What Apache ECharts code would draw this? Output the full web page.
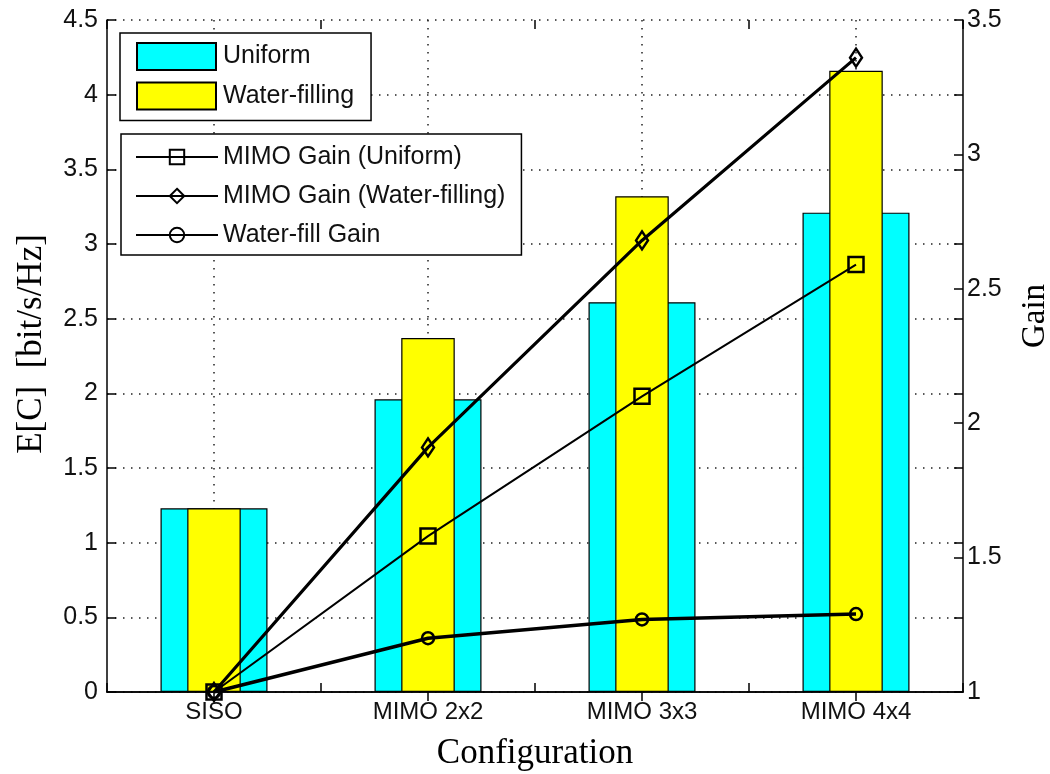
<!DOCTYPE html>
<html>
<head>
<meta charset="utf-8">
<script src="https://cdn.jsdelivr.net/npm/echarts@6/dist/echarts.min.js"></script>
<style>
  html, body { margin: 0; padding: 0; background: #fff; }
  #chart { width: 1050px; height: 774px; }
</style>
</head>
<body>
<div id="chart"></div>
<script>
// Antenna configurations
const configurations = ['SISO', 'MIMO 2x2', 'MIMO 3x3', 'MIMO 4x4'];

// Ergodic capacity E[C] in bit/s/Hz (left axis)
const capacityUniform = [1.23, 1.96, 2.61, 3.21];
const capacityWaterFilling = [1.23, 2.37, 3.32, 4.16];

// Gains relative to the reference (right axis)
const mimoGainUniform = [1, 1.58, 2.10, 2.59];
const mimoGainWaterFilling = [1, 1.91, 2.68, 3.36];
const waterFillGain = [1, 1.20, 1.27, 1.29];

const sansFont = '"Liberation Sans", Arial, sans-serif';
const serifFont = '"Liberation Serif", "Times New Roman", serif';
const ink = '#000';
const dotted = { color: '#222', width: 1.5, type: [1.5, 6.5] };

const chart = echarts.init(document.getElementById('chart'), null, { renderer: 'canvas' });

const hiddenLabels = { show: false };

chart.setOption({
  backgroundColor: '#fff',
  animation: false,
  grid: {
    left: 107, right: 87, top: 20, bottom: 82,
    containLabel: false,
    outerBoundsMode: 'none'
  },
  legend: [
    {
      data: ['Uniform', 'Water-filling'],
      orient: 'vertical',
      left: 120, top: 33,
      padding: [9, 17, 10, 16],
      itemWidth: 79, itemHeight: 27, itemGap: 10.5,
      icon: 'rect',
      borderColor: ink, borderWidth: 1.5,
      backgroundColor: '#fff',
      textStyle: { fontFamily: sansFont, fontSize: 25, color: '#111', padding: [0, 0, 0, 2] }
    },
    {
      data: ['MIMO Gain (Uniform)', 'MIMO Gain (Water-filling)', 'Water-fill Gain'],
      orient: 'vertical',
      left: 121, top: 134,
      padding: [9, 16, 6, 14],
      itemWidth: 82, itemHeight: 18, itemGap: 11,
      borderColor: ink, borderWidth: 1.5,
      backgroundColor: '#fff',
      textStyle: { fontFamily: sansFont, fontSize: 25, color: '#111', lineHeight: 28 }
    }
  ],
  xAxis: [
    {
      // main category axis: labels, ticks between categories
      type: 'category',
      data: configurations,
      position: 'bottom',
      name: 'Configuration',
      nameLocation: 'middle',
      nameGap: 44,
      nameTextStyle: { fontFamily: serifFont, fontSize: 35, color: ink },
      axisLine: { show: true, lineStyle: { color: ink, width: 1.5 } },
      axisTick: { show: true, inside: true, length: 9, lineStyle: { color: ink, width: 1.5 } },
      axisLabel: { fontFamily: sansFont, fontSize: 24, color: '#111', margin: 8 },
      splitLine: { show: false }
    },
    {
      // top frame with ticks and dotted grid at category centres
      type: 'category',
      data: configurations,
      position: 'top',
      axisLine: { show: true, lineStyle: { color: ink, width: 1.5 } },
      axisTick: { show: true, inside: true, length: 9, alignWithLabel: true, lineStyle: { color: ink, width: 1.5 } },
      axisLabel: hiddenLabels,
      splitLine: { show: true, alignWithLabel: true, lineStyle: dotted }
    },
    {
      // bottom ticks at category centres
      type: 'category',
      data: configurations,
      position: 'bottom',
      axisLine: { show: false },
      axisTick: { show: true, inside: true, length: 9, alignWithLabel: true, lineStyle: { color: ink, width: 1.5 } },
      axisLabel: hiddenLabels,
      splitLine: { show: false }
    },
    {
      // top ticks between categories
      type: 'category',
      data: configurations,
      position: 'top',
      axisLine: { show: false },
      axisTick: { show: true, inside: true, length: 9, lineStyle: { color: ink, width: 1.5 } },
      axisLabel: hiddenLabels,
      splitLine: { show: false }
    }
  ],
  yAxis: [
    {
      type: 'value',
      position: 'left',
      min: 0, max: 4.5, interval: 0.5,
      name: 'E[C]  [bit/s/Hz]',
      nameLocation: 'middle',
      nameGap: 58,
      nameRotate: 90,
      nameTextStyle: { fontFamily: serifFont, fontSize: 35, color: ink, padding: [0, 0, 0, 24] },
      axisLine: { show: true, lineStyle: { color: ink, width: 1.5 } },
      axisTick: { show: true, inside: true, length: 9, lineStyle: { color: ink, width: 1.5 } },
      axisLabel: { fontFamily: sansFont, fontSize: 25, color: '#111', margin: 9 },
      splitLine: { show: true, lineStyle: dotted }
    },
    {
      type: 'value',
      position: 'right',
      min: 1, max: 3.5, interval: 0.5,
      name: 'Gain',
      nameLocation: 'middle',
      nameGap: 56,
      nameRotate: 90,
      nameTextStyle: { fontFamily: serifFont, fontSize: 33, color: ink, padding: [0, 0, 0, 80] },
      axisLine: { show: true, lineStyle: { color: ink, width: 1.5 } },
      axisTick: { show: true, inside: true, length: 9, lineStyle: { color: ink, width: 1.5 } },
      axisLabel: { fontFamily: sansFont, fontSize: 25, color: '#111', margin: 4 },
      splitLine: { show: false }
    },
    {
      // left-axis ticks mirrored on the right frame
      type: 'value',
      position: 'right',
      min: 0, max: 4.5, interval: 0.5,
      axisLine: { show: false },
      axisTick: { show: true, inside: true, length: 9, lineStyle: { color: ink, width: 1.5 } },
      axisLabel: hiddenLabels,
      splitLine: { show: false }
    }
  ],
  series: [
    {
      name: 'Uniform',
      type: 'bar',
      xAxisIndex: 0, yAxisIndex: 0,
      data: capacityUniform,
      barWidth: '50%',
      itemStyle: { color: '#00FFFF', borderColor: ink, borderWidth: 1.2 },
      z: 2
    },
    {
      name: 'Water-filling',
      type: 'bar',
      xAxisIndex: 1, yAxisIndex: 0,
      data: capacityWaterFilling,
      barWidth: '25%',
      itemStyle: { color: '#FFFF00', borderColor: ink, borderWidth: 1.2 },
      z: 3
    },
    {
      name: 'MIMO Gain (Uniform)',
      type: 'line',
      xAxisIndex: 0, yAxisIndex: 1,
      data: mimoGainUniform,
      symbol: 'rect', symbolSize: 15,
      lineStyle: { color: ink, width: 2 },
      itemStyle: { color: 'rgba(0,0,0,0)', borderColor: ink, borderWidth: 2.5 },
      z: 5
    },
    {
      name: 'MIMO Gain (Water-filling)',
      type: 'line',
      xAxisIndex: 0, yAxisIndex: 1,
      data: mimoGainWaterFilling,
      symbol: 'diamond', symbolSize: [12, 18],
      lineStyle: { color: ink, width: 3.2 },
      itemStyle: { color: 'rgba(0,0,0,0)', borderColor: ink, borderWidth: 2.5 },
      z: 5
    },
    {
      name: 'Water-fill Gain',
      type: 'line',
      xAxisIndex: 0, yAxisIndex: 1,
      data: waterFillGain,
      symbol: 'circle', symbolSize: 12,
      lineStyle: { color: ink, width: 3.5 },
      itemStyle: { color: 'rgba(0,0,0,0)', borderColor: ink, borderWidth: 2.5 },
      z: 5
    }
  ]
});
</script>
</body>
</html>
